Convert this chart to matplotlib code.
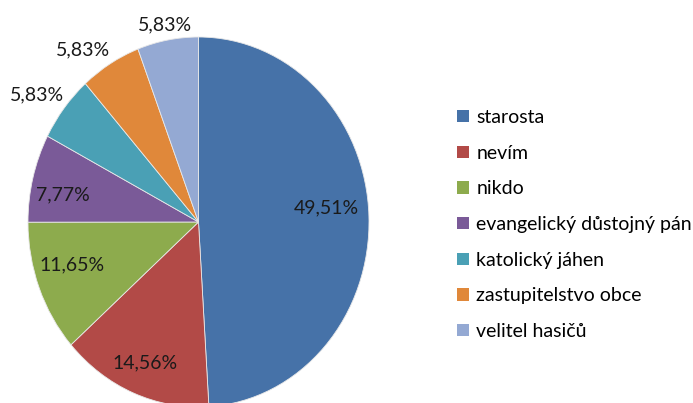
import matplotlib
matplotlib.use("Agg")
import matplotlib.pyplot as plt
from matplotlib.patches import Patch

categories = ["starosta", "nevím", "nikdo", "evangelický důstojný pán",
              "katolický jáhen", "zastupitelstvo obce", "velitel hasičů"]
values = [49.51, 14.56, 11.65, 7.77, 5.83, 5.83, 5.83]
value_labels = ["49,51%", "14,56%", "11,65%", "7,77%", "5,83%", "5,83%", "5,83%"]
colors = ["#4672A8", "#B24A47", "#8DAB4D", "#7A5A98", "#4AA0B5", "#E0883A", "#94A9D3"]

# label positions (layout) in pie data units
label_pos = [(0.747, 0.076), (-0.312, -0.762), (-0.741, -0.232), (-0.794, 0.146),
             (-0.947, 0.686), (-0.676, 0.930), (-0.194, 1.065)]

plt.rcParams['font.family'] = ['Lato', 'DejaVu Sans']

fig = plt.figure(figsize=(6.93, 4.03), dpi=100)
ax = fig.add_axes([28/693, -4/403, 341/693, 370/403])
ax.pie(values, colors=colors, startangle=90, counterclock=False,
       wedgeprops=dict(edgecolor="#e8e8e8", linewidth=0.6))
ax.set_aspect('auto')
ax.set_xlim(-1, 1)
ax.set_ylim(-1, 1)

for (x, y), t in zip(label_pos, value_labels):
    ax.text(x, y, t, ha='center', va='center', fontsize=14, color='#1a1a1a')

handles = [Patch(facecolor=c, edgecolor='none') for c in colors]
fig.legend(handles, categories, loc='upper left', bbox_to_anchor=(457/693, 1 - 109/403),
           frameon=False, fontsize=14, handlelength=0.62, handleheight=0.62,
           handletextpad=0.38, labelspacing=0.96, borderpad=0, borderaxespad=0)

fig.savefig("out.png", dpi=100)
